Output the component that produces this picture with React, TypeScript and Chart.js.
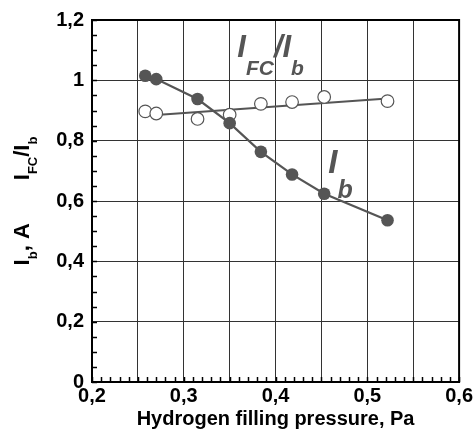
import React, { useEffect, useRef } from 'react';
import { Chart, registerables } from 'chart.js';

Chart.register(...registerables);

// Hydrogen filling pressure, Pa
const pressure = [0.258, 0.270, 0.315, 0.350, 0.384, 0.418, 0.453, 0.522];
// Beam current I_b, A
const beamCurrent = [1.015, 1.004, 0.938, 0.858, 0.763, 0.688, 0.624, 0.536];
// Ratio I_FC / I_b
const ratio = [0.897, 0.890, 0.872, 0.886, 0.922, 0.928, 0.945, 0.931];
// Linear fit through the ratio points
const fitPressure = [0.27, 0.522];
const fitRatio = [0.885, 0.94];

const xTitle = 'Hydrogen filling pressure, Pa';

const FONT = '"Liberation Sans", Arial, Helvetica, sans-serif';
const GRAY = '#555555';

type Run = { text: string; font: string; dy: number };

function runsWidth(ctx: CanvasRenderingContext2D, runs: Run[]) {
  let w = 0;
  for (const r of runs) {
    ctx.font = r.font;
    w += ctx.measureText(r.text).width;
  }
  return w;
}

function drawRuns(ctx: CanvasRenderingContext2D, x: number, y: number, runs: Run[]) {
  let cx = x;
  for (const r of runs) {
    ctx.font = r.font;
    ctx.fillText(r.text, cx, y + r.dy);
    cx += ctx.measureText(r.text).width;
  }
}

const fmt = (v: number) => String(Math.round(v * 10) / 10).replace('.', ',');

const decor = {
  id: 'decor',
  afterDraw(chart: any) {
    const { ctx, chartArea: a, scales } = chart;
    const xs = scales.x;
    const ys = scales.y;
    ctx.save();
    // minor ticks (inward)
    ctx.strokeStyle = '#000';
    ctx.lineWidth = 1.5;
    for (let i = 0; i <= 24; i++) {
      const py = Math.round(ys.getPixelForValue(i * 0.05)) + 0.5;
      ctx.beginPath();
      ctx.moveTo(a.left, py);
      ctx.lineTo(a.left + 5, py);
      ctx.stroke();
    }
    for (let i = 0; i <= 40; i++) {
      const px = Math.round(xs.getPixelForValue(0.2 + i * 0.01)) + 0.5;
      ctx.beginPath();
      ctx.moveTo(px, a.bottom);
      ctx.lineTo(px, a.bottom - 5);
      ctx.stroke();
    }
    // frame
    ctx.lineWidth = 2;
    ctx.strokeRect(a.left, a.top, a.right - a.left, a.bottom - a.top);

    // in-plot labels
    ctx.fillStyle = GRAY;
    ctx.textBaseline = 'alphabetic';
    ctx.textAlign = 'left';
    const bigI = `italic bold 31px ${FONT}`;
    const subF = `italic bold 21px ${FONT}`;
    drawRuns(ctx, xs.getPixelForValue(0.3583), ys.getPixelForValue(1.078), [
      { text: 'I', font: bigI, dy: 0 },
      { text: 'FC', font: subF, dy: 18 },
      { text: '/I', font: bigI, dy: 0 },
      { text: 'b', font: subF, dy: 18 },
    ]);
    drawRuns(ctx, xs.getPixelForValue(0.4575), ys.getPixelForValue(0.692), [
      { text: 'I', font: `italic bold 33px ${FONT}`, dy: 0 },
      { text: 'b', font: `italic bold 25px ${FONT}`, dy: 25 },
    ]);

    // y axis title (rotated)
    ctx.fillStyle = '#000';
    const main = `bold 22px ${FONT}`;
    const sub = `bold 13px ${FONT}`;
    const partA: Run[] = [
      { text: 'I', font: main, dy: 0 },
      { text: 'b', font: sub, dy: 8 },
      { text: ', A', font: main, dy: 0 },
    ];
    const partB: Run[] = [
      { text: 'I', font: main, dy: 0 },
      { text: 'FC', font: sub, dy: 8 },
      { text: '/I', font: main, dy: 0 },
      { text: 'b', font: sub, dy: 8 },
    ];
    const gap = 43;
    const wA = runsWidth(ctx, partA);
    const wB = runsWidth(ctx, partB);
    const total = wA + gap + wB;
    const cy = (a.top + a.bottom) / 2;
    ctx.translate(29, cy + total / 2);
    ctx.rotate(-Math.PI / 2);
    drawRuns(ctx, 0, 0, partA);
    drawRuns(ctx, wA + gap, 0, partB);
    ctx.restore();
  },
};

export default function App() {
  const ref = useRef<HTMLCanvasElement | null>(null);
  useEffect(() => {
    if (!ref.current) return;
    const chart = new Chart(ref.current, {
      type: 'scatter',
      data: {
        datasets: [
          {
            label: 'Ib',
            data: pressure.map((p, i) => ({ x: p, y: beamCurrent[i] })),
            showLine: true,
            borderColor: GRAY,
            borderWidth: 2.2,
            pointRadius: 6.3,
            pointBackgroundColor: GRAY,
            pointBorderColor: GRAY,
            pointBorderWidth: 0,
          },
          {
            label: 'ratio',
            data: pressure.map((p, i) => ({ x: p, y: ratio[i] })),
            showLine: false,
            pointRadius: 6.3,
            pointBackgroundColor: '#ffffff',
            pointBorderColor: GRAY,
            pointBorderWidth: 1.2,
          },
          {
            label: 'fit',
            data: fitPressure.map((p, i) => ({ x: p, y: fitRatio[i] })),
            showLine: true,
            borderColor: GRAY,
            borderWidth: 2,
            pointRadius: 0,
          },
        ],
      },
      options: {
        animation: false,
        responsive: false,
        events: [],
        layout: { padding: { left: 0, top: 18, right: 15, bottom: 0 } },
        plugins: {
          legend: { display: false },
          tooltip: { enabled: false },
        },
        scales: {
          x: {
            type: 'linear',
            min: 0.2,
            max: 0.6,
            afterFit: (s: any) => {
              s.height = 57;
            },
            ticks: {
              stepSize: 0.05,
              autoSkip: false,
              maxRotation: 0,
              color: '#000',
              padding: 2,
              font: { family: FONT, size: 20, weight: 'bold' },
              callback: (v: any) => {
                const n = Number(v);
                return Math.abs(n * 10 - Math.round(n * 10)) < 1e-6 ? fmt(n) : '';
              },
            },
            grid: { color: '#333', lineWidth: 1, drawTicks: false },
            border: { display: true, color: '#000', width: 2 },
            title: {
              display: true,
              text: xTitle,
              color: '#000',
              font: { family: FONT, size: 20, weight: 'bold' },
              padding: { top: 0, bottom: 8 },
            },
          },
          y: {
            type: 'linear',
            min: 0,
            max: 1.2,
            afterFit: (s: any) => {
              s.width = 92;
            },
            ticks: {
              stepSize: 0.2,
              color: '#000',
              padding: 8,
              font: { family: FONT, size: 20, weight: 'bold' },
              callback: (v: any) => fmt(Number(v)),
            },
            grid: { color: '#333', lineWidth: 1, drawTicks: false },
            border: { display: true, color: '#000', width: 2 },
          },
        },
      },
      plugins: [decor],
    } as any);
    return () => chart.destroy();
  }, []);
  return (
    <div style={{ position: 'absolute', left: 0, top: 0, width: 475, height: 439, background: '#fff' }}>
      <canvas ref={ref} width={475} height={439} />
    </div>
  );
}
